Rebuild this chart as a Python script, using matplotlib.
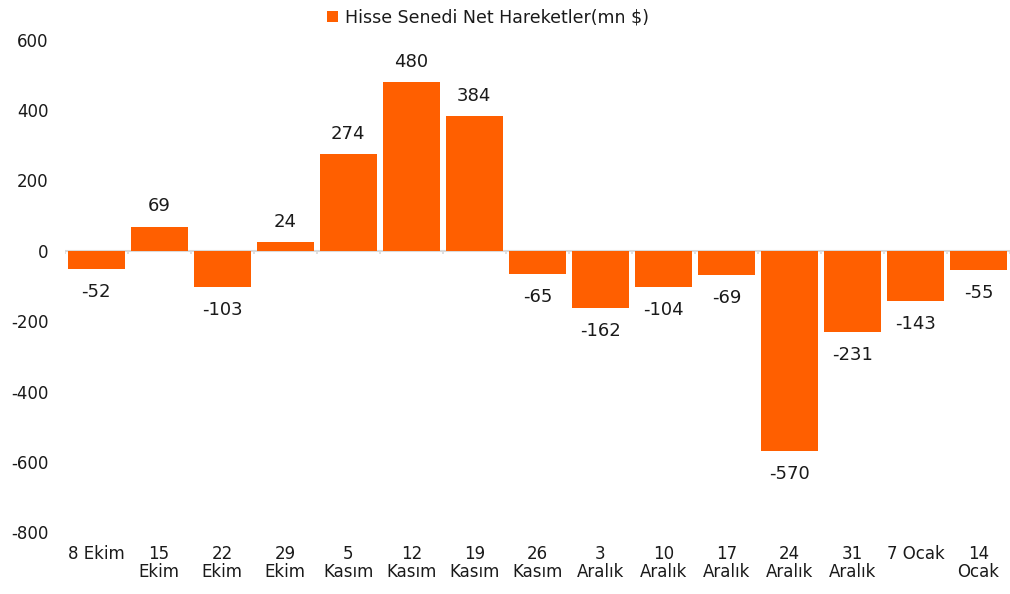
import matplotlib.pyplot as plt
import numpy as np

# weekly net equity flows, mn USD
labels = ["8 Ekim", "15\nEkim", "22\nEkim", "29\nEkim", "5\nKasım", "12\nKasım",
          "19\nKasım", "26\nKasım", "3\nAralık", "10\nAralık", "17\nAralık",
          "24\nAralık", "31\nAralık", "7 Ocak", "14\nOcak"]
values = [-52, 69, -103, 24, 274, 480, 384, -65, -162, -104, -69, -570, -231, -143, -55]
yticks = [-800, -600, -400, -200, 0, 200, 400, 600]

ORANGE = "#ff5f00"
TEXT = "#1a1a1a"

plt.rcParams["font.family"] = ["DejaVu Sans"]

fig = plt.figure(figsize=(10.1, 5.94), dpi=100)
ax = fig.add_axes([0.064, 0.104, 0.936, 0.829])

x = np.arange(len(values))
bars = ax.bar(x, values, width=0.9, color=ORANGE, label="Hisse Senedi Net Hareketler(mn $)",
              zorder=2)

ax.set_xlim(-0.5, len(values) - 0.5)
ax.set_ylim(-800, 600)
ax.set_yticks(yticks)
ax.set_yticklabels([str(v) for v in yticks], fontsize=12, color=TEXT)
ax.tick_params(axis="y", length=0, pad=11.5)

ax.set_xticks(x)
ax.set_xticklabels(labels, fontsize=12, color=TEXT, linespacing=1.0, va="top")
ax.tick_params(axis="x", length=0, pad=9)

for s in ax.spines.values():
    s.set_visible(False)

# zero line with category boundary ticks
ax.axhline(0, color="#d9d9d9", lw=1.5, zorder=1)
ax.vlines(np.arange(len(values) + 1) - 0.5, -9, 0, color="#d9d9d9", lw=1.2, zorder=1)

for xi, v in zip(x, values):
    if v >= 0:
        ax.annotate(str(v), (xi, v), xytext=(0, 8), textcoords="offset points",
                    ha="center", va="bottom", fontsize=13, color=TEXT)
    else:
        ax.annotate(str(v), (xi, v), xytext=(0, -10), textcoords="offset points",
                    ha="center", va="top", fontsize=13, color=TEXT)

fig.legend(loc="upper center", bbox_to_anchor=(0.483, 1.012), frameon=False,
           fontsize=12.5, handlelength=0.6, handleheight=0.6, handletextpad=0.4,
           labelcolor=TEXT)

fig.savefig("out.png", dpi=100, facecolor="white")
